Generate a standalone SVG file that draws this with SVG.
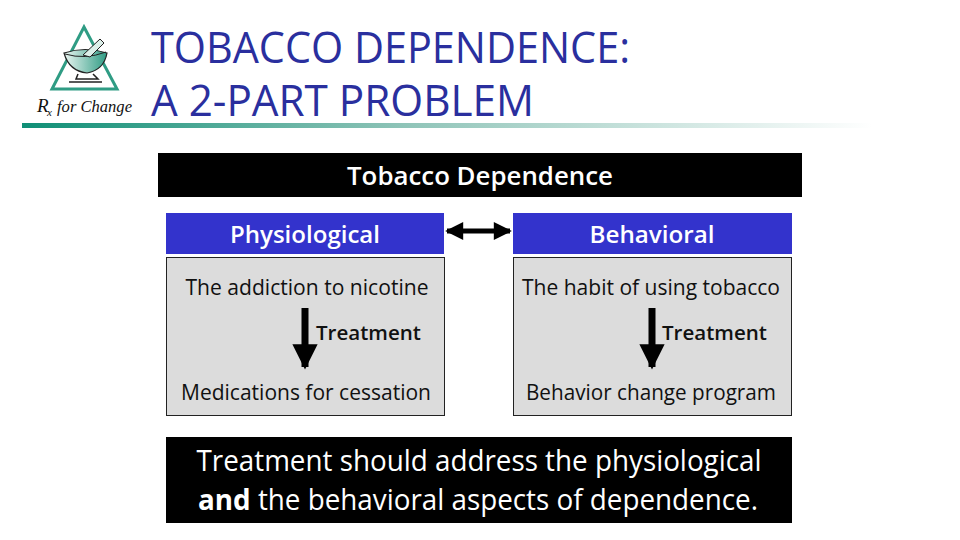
<svg xmlns="http://www.w3.org/2000/svg" width="960" height="540" viewBox="0 0 960 540">
<style>
text{font-family:"Open Sans","Liberation Sans",sans-serif}
.title{font-size:43px;fill:#2a2f9e}
.w{fill:#fff;text-anchor:middle}
.b{fill:#111;text-anchor:middle;font-size:21px}
.head{font-size:24px;font-weight:600}
.tr{font-size:20px;font-weight:600;fill:#111}
.box{fill:#dcdcdc;stroke:#222;stroke-width:1}
.blue{fill:#3333cc}
</style>
<defs>
<linearGradient id="rule" x1="0" x2="1" y1="0" y2="0"><stop offset="0" stop-color="#0f8f76"/><stop offset="0.45" stop-color="#8fc4b8"/><stop offset="1" stop-color="#ffffff"/></linearGradient>
<linearGradient id="bowl" x1="0" x2="1" y1="0" y2="0"><stop offset="0" stop-color="#eaf5f1"/><stop offset="1" stop-color="#2f9c84"/></linearGradient>
<marker id="h" viewBox="0 0 10 10" refX="9" refY="5" markerWidth="4" markerHeight="3.6" orient="auto-start-reverse" markerUnits="strokeWidth"><path d="M0 0L10 5L0 10Z" fill="#000"/></marker>
</defs>
<rect width="960" height="540" fill="#fff"/>
<g id="logo">
<path d="M84 27L117 89H52Z" fill="#fff" stroke="#2f9c84" stroke-width="3"/>
<path d="M64 53Q85 46 107 53Q104 70 87 73Q69 71 64 53Z" fill="url(#bowl)" stroke="#222" stroke-width="1.2"/>
<path d="M65 54Q85 60 106 52" fill="none" stroke="#222" stroke-width="1"/>
<path d="M83 55L100 39L104 43L90 57Z" fill="#dcefe9" stroke="#222" stroke-width="1"/>
<path d="M78 74L76 79H98L93 74M69 82H102" fill="none" stroke="#222" stroke-width="1.5"/>
<text x="37" y="112" font-size="19" style="font-family:'Liberation Serif',serif;font-style:italic;fill:#111">R</text>
<text x="47" y="116" font-size="11" style="font-family:'Liberation Serif',serif;font-style:italic;fill:#111">x</text>
<text x="57" y="112" font-size="17" textLength="75" lengthAdjust="spacingAndGlyphs" style="font-family:'Liberation Serif',serif;font-style:italic;fill:#111">for Change</text>
</g>
<rect x="22" y="123" width="850" height="5" fill="url(#rule)"/>
<g id="title">
<text class="title" x="151" y="63" textLength="479" lengthAdjust="spacingAndGlyphs">TOBACCO DEPENDENCE:</text>
<text class="title" x="151" y="116" textLength="383" lengthAdjust="spacingAndGlyphs">A 2-PART PROBLEM</text>
</g>
<g id="header">
<rect x="158" y="153" width="644" height="44" fill="#000"/>
<text class="w" x="480" y="185" font-size="25" font-weight="600" textLength="266" lengthAdjust="spacingAndGlyphs">Tobacco Dependence</text>
</g>
<g id="physiological">
<rect class="blue" x="166" y="213" width="278" height="41"/>
<text class="w head" x="305" y="243" textLength="150" lengthAdjust="spacingAndGlyphs">Physiological</text>
<rect class="box" x="166.500" y="257.500" width="278" height="158"/>
<text class="b" x="307" y="295" textLength="243" lengthAdjust="spacingAndGlyphs">The addiction to nicotine</text>
<text class="tr" x="316" y="340" textLength="105" lengthAdjust="spacingAndGlyphs">Treatment</text>
<text class="b" x="306" y="400" textLength="250" lengthAdjust="spacingAndGlyphs">Medications for cessation</text>
</g>
<g id="behavioral">
<rect class="blue" x="513" y="213" width="279" height="41"/>
<text class="w head" x="652" y="243" textLength="125" lengthAdjust="spacingAndGlyphs">Behavioral</text>
<rect class="box" x="513.500" y="257.500" width="278" height="158"/>
<text class="b" x="651" y="295" textLength="258" lengthAdjust="spacingAndGlyphs">The habit of using tobacco</text>
<text class="tr" x="662" y="340" textLength="105" lengthAdjust="spacingAndGlyphs">Treatment</text>
<text class="b" x="651" y="400" textLength="250" lengthAdjust="spacingAndGlyphs">Behavior change program</text>
</g>
<g id="connectors">
<path d="M305 308V367" stroke="#000" stroke-width="7" fill="none" marker-end="url(#h)"/>
<path d="M652 308V367" stroke="#000" stroke-width="7" fill="none" marker-end="url(#h)"/>
<path d="M447 231H510" stroke="#000" stroke-width="5" fill="none" marker-start="url(#h)" marker-end="url(#h)"/>
</g>
<g id="summary">
<rect x="166" y="437" width="626" height="86" fill="#000"/>
<text class="w" x="479" y="471" font-size="29" textLength="565" lengthAdjust="spacingAndGlyphs">Treatment should address the physiological</text>
<text class="w" x="478" y="510" font-size="29" textLength="560" lengthAdjust="spacingAndGlyphs"><tspan font-weight="700">and</tspan> the behavioral aspects of dependence.</text>
</g>
</svg>
